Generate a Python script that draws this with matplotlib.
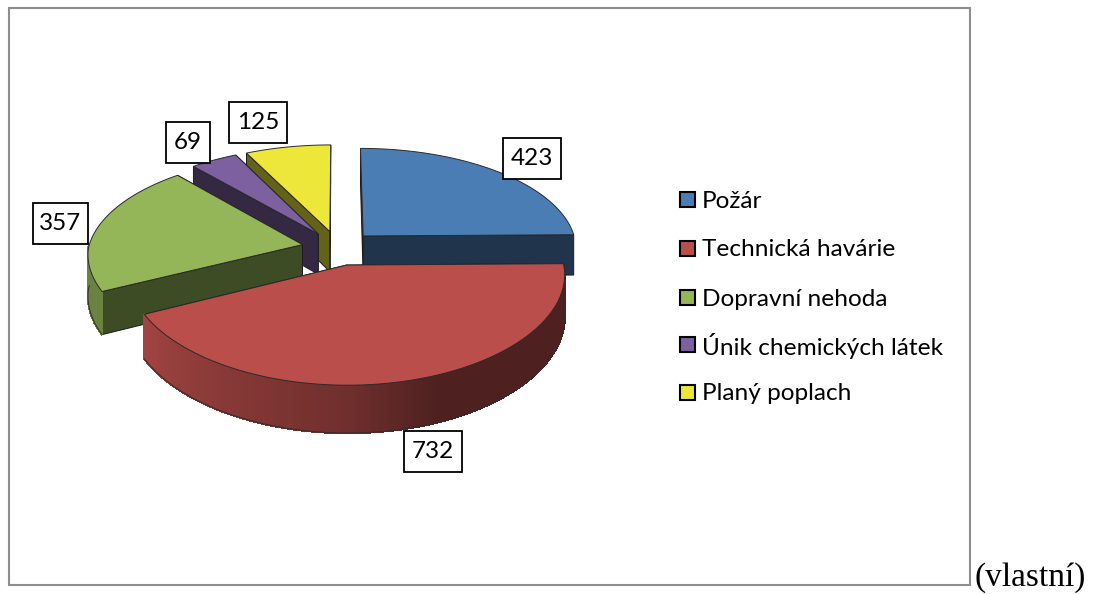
"""Exploded 3D-look pie of incident counts, drawn on a pixel-sized axes."""
import matplotlib
matplotlib.use("Agg")
import matplotlib.pyplot as plt
import numpy as np
from matplotlib.patches import Polygon, Rectangle

categories = ["Požár", "Technická havárie", "Dopravní nehoda",
              "Únik chemických látek", "Planý poplach"]
values = [423, 732, 357, 69, 125]
colors = ["#4B7DB5", "#B94E4B", "#94B659", "#7D60A0", "#EDE73A"]

# pie projection, in pixels
CX, CY = 338, 248
RX, RY = 214, 101
PERSP = 0.122
EXPLODE = 0.17
DEPTH = 41

# label boxes: centre x, centre y, width, height
boxes = [(532, 158, 58, 41), (433, 451, 58, 41), (60, 223, 55, 41),
         (188, 142, 44, 41), (258, 122, 58, 41)]
legend_y = [199, 248, 297, 344, 392]
draw_order = [4, 3, 0, 2, 1]


def project(x, y, drop=0.0):
    s = 1.0 / (1.0 + PERSP * y)
    # the front half widens less than the perspective would give
    sx = s if y > 0 else 1 + 0.7 * (s - 1)
    return CX + RX * x * sx, CY - RY * y * s + drop * DEPTH * s


def side_shade(theta):
    return np.interp(theta, [158, 180, 243.9, 244, 360],
                     [0.42, 0.60, 0.87, 0.72, 0.72])


def draw_slice(ax, start, end, color):
    mid = np.radians((start + end) / 2)
    ox, oy = EXPLODE * np.sin(mid), EXPLODE * np.cos(mid)
    base = np.array(matplotlib.colors.to_rgb(color))
    angles = np.linspace(start, end, max(int((end - start) * 2), 2) + 1)
    rad = np.radians(angles)
    rim_x, rim_y = ox + np.sin(rad), oy + np.cos(rad)

    # radial cut faces, the one further back goes first
    ends = [0, -1] if rim_y[0] > rim_y[-1] else [-1, 0]
    for k in ends:
        a = project(ox, oy)
        b = project(rim_x[k], rim_y[k])
        c = project(rim_x[k], rim_y[k], 1)
        d = project(ox, oy, 1)
        ax.add_patch(Polygon([a, b, c, d], fc=base * 0.42, ec="#1c1c1c", lw=0.7))

    # curved side, strip by strip for the shading; only the front of the rim shows
    front = np.where((angles > 90) & (angles < 270))[0]
    if len(front) > 1:
        for i in front[:-1]:
            quad = [project(rim_x[i], rim_y[i]), project(rim_x[i + 1], rim_y[i + 1]),
                    project(rim_x[i + 1], rim_y[i + 1], 1), project(rim_x[i], rim_y[i], 1)]
            shade = base * side_shade((angles[i] + angles[i + 1]) / 2)
            ax.add_patch(Polygon(quad, fc=shade, ec=shade, lw=1.0, antialiased=False))
        low = [project(rim_x[i], rim_y[i], 1) for i in front]
        ax.plot([p[0] for p in low], [p[1] for p in low], color="#3a2a2a", lw=0.7, zorder=1)

    top = [project(ox, oy)] + [project(x, y) for x, y in zip(rim_x, rim_y)]
    ax.add_patch(Polygon(top, fc=base, ec="#2a2a2a", lw=0.7))


def main():
    plt.rcParams["font.family"] = ["Lato", "DejaVu Sans"]
    fig = plt.figure(figsize=(10.93, 5.94), dpi=100)
    ax = fig.add_axes([0, 0, 1, 1])
    ax.set_xlim(0, 1093)
    ax.set_ylim(594, 0)
    ax.axis("off")

    ax.add_patch(Rectangle((9, 8), 961, 577, fc="white", ec="#8e8e8e", lw=1.5))

    edges = np.concatenate([[0], np.cumsum(values)]) / sum(values) * 360
    for i in draw_order:
        draw_slice(ax, edges[i], edges[i + 1], colors[i])

    for val, (bx, by, bw, bh) in zip(values, boxes):
        ax.add_patch(Rectangle((bx - bw / 2, by - bh / 2), bw, bh,
                               fc="white", ec="black", lw=1.3, zorder=5))
        ax.text(bx, by + 0.5, str(val), ha="center", va="center",
                fontsize=17.5, color="black", zorder=6)

    # legend rows by hand, matplotlib's legend spaces them unevenly here
    for name, col, ly in zip(categories, colors, legend_y):
        ax.add_patch(Rectangle((680, ly - 7.5), 15, 15, fc=col, ec="black", lw=1.5))
        ax.text(702, ly, name, ha="left", va="center_baseline", fontsize=17.6,
                color="black")

    ax.text(975, 586, "(vlastní)", family="Liberation Serif", fontsize=24,
            ha="left", va="baseline", color="black")

    fig.savefig("out.png", dpi=100)
    plt.close(fig)


if __name__ == "__main__":
    main()
